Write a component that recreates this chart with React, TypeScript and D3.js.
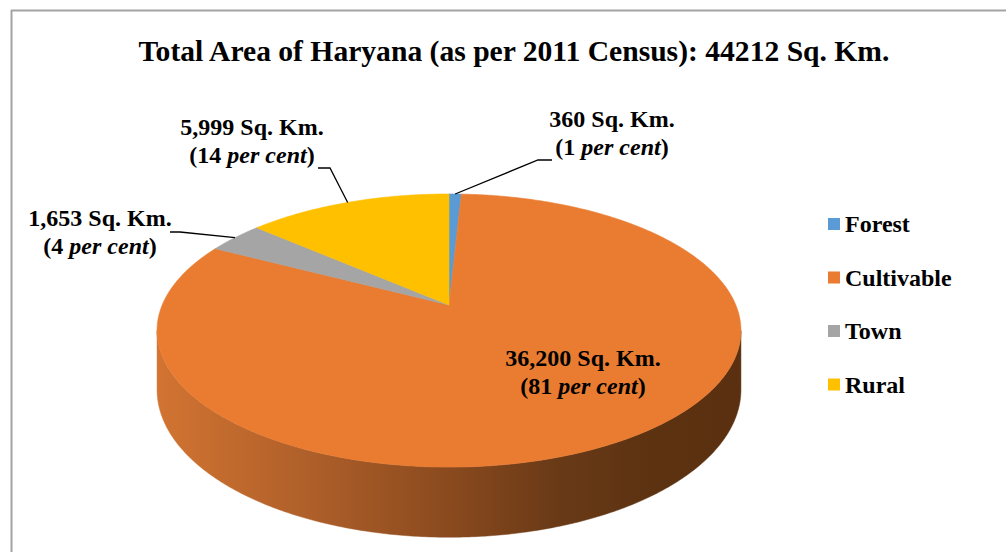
import React from "react";
import * as d3 from "d3";

const categories = ["Forest", "Cultivable", "Town", "Rural"];
const areas = [360, 36200, 1653, 5999];
const areaLabels = ["360", "36,200", "1,653", "5,999"];
const percents = ["1", "81", "4", "14"];
const colors = ["#5B9BD5", "#E97C30", "#A5A5A5", "#FFC000"];
const titleText = "Total Area of Haryana (as per 2011 Census): 44212 Sq. Km.";

const W = 1006;
const H = 552;
const CX = 449;
const CY = 305;
const RX = 286.8;
const RY = 131.8;
const P = 0.187;
const DEPTH = 57;

const FONT = "'Liberation Serif', 'Times New Roman', serif";

function proj(theta: number, depth = 0): [number, number] {
  const u = Math.sin(theta);
  const d = -Math.cos(theta);
  const w = 1 - P * d;
  return [CX + (RX * u) / w, CY + (RY * d) / w + (depth * DEPTH) / w];
}

function arcPoints(a0: number, a1: number, depth = 0): [number, number][] {
  const n = Math.max(2, Math.ceil(((a1 - a0) * 180) / Math.PI / 0.5));
  const pts: [number, number][] = [];
  for (let i = 0; i <= n; i++) pts.push(proj(a0 + ((a1 - a0) * i) / n, depth));
  return pts;
}

const labelPos: [number, number][] = [
  [612, 127],
  [583, 366],
  [100, 226],
  [252, 135],
];
const leaderEnds: ([number, number][] | null)[] = [
  [[552, 160], [538, 160]],
  null,
  [[170, 232], [180, 232]],
  [[318, 168], [330, 168]],
];

export default function App() {
  const pie = d3
    .pie<number>()
    .sort(null)
    .value((d) => d)
    .startAngle(0)
    .endAngle(2 * Math.PI);
  const arcs = pie(areas);

  const line = d3.line<[number, number]>();
  const frontA = Math.acos(-P);
  const frontB = 2 * Math.PI - frontA;

  const sides: React.ReactNode[] = [];
  arcs.forEach((a, i) => {
    const s = Math.max(a.startAngle, frontA);
    const e = Math.min(a.endAngle, frontB);
    if (e > s) {
      const top = arcPoints(s, e, 0);
      const bot = arcPoints(s, e, 1).reverse();
      sides.push(
        <path
          key={"side" + i}
          d={line([...top, ...bot]) + "Z"}
          fill={`url(#sideGrad${i})`}
          stroke={`url(#sideGrad${i})`}
          strokeWidth={0.5}
        />
      );
    }
  });

  const x0 = CX - RX * 1.02;
  const x1 = CX + RX * 1.02;

  const darker = (c: string, k: number) => d3.color(c)!.darker(k).formatHex();

  return (
    <svg
      width={W}
      height={H}
      style={{ position: "absolute", left: 0, top: 0, background: "#fff" }}
    >
      <defs>
        {colors.map((c, i) => (
          <linearGradient
            key={i}
            id={`sideGrad${i}`}
            gradientUnits="userSpaceOnUse"
            x1={x0}
            x2={x1}
            y1={0}
            y2={0}
          >
            {i === 1 ? (
              <>
                <stop offset="0" stopColor="#D27432" />
                <stop offset="0.25" stopColor="#B0602A" />
                <stop offset="0.5" stopColor="#8A4A1E" />
                <stop offset="0.68" stopColor="#6A3A17" />
                <stop offset="0.85" stopColor="#5C3211" />
                <stop offset="1" stopColor="#5A3010" />
              </>
            ) : (
              <>
                <stop offset="0" stopColor={darker(c, 0.3)} />
                <stop offset="1" stopColor={darker(c, 2)} />
              </>
            )}
          </linearGradient>
        ))}
      </defs>
      <rect x={0} y={0} width={W} height={H} fill="#fff" />
      <line x1={11} y1={10.5} x2={W} y2={10.5} stroke="#A3A3A3" strokeWidth={2} />
      <line x1={11.5} y1={10} x2={11.5} y2={H} stroke="#A3A3A3" strokeWidth={2} />

      <text
        x={514}
        y={61}
        textAnchor="middle"
        fontFamily={FONT}
        fontWeight="bold"
        fontSize={29.6}
        fill="#000"
      >
        {titleText}
      </text>

      {sides}

      {arcs.map((a, i) => {
        const pts: [number, number][] = [[CX, CY], ...arcPoints(a.startAngle, a.endAngle, 0)];
        return (
          <path
            key={"top" + i}
            d={line(pts) + "Z"}
            fill={colors[i]}
            stroke={colors[i]}
            strokeWidth={0.6}
            strokeLinejoin="round"
          />
        );
      })}

      {arcs.map((a, i) => {
        const ends = leaderEnds[i];
        if (!ends) return null;
        const mid = (a.startAngle + a.endAngle) / 2;
        const anchor = proj(mid, 0);
        return (
          <path
            key={"lead" + i}
            d={line([...ends, anchor]) || ""}
            fill="none"
            stroke="#000"
            strokeWidth={1.3}
          />
        );
      })}

      {categories.map((c, i) => {
        const [lx, ly] = labelPos[i];
        return (
          <text
            key={"lab" + i}
            textAnchor="middle"
            fontFamily={FONT}
            fontWeight="bold"
            fontSize={24}
            fill="#000"
          >
            <tspan x={lx} y={ly}>
              {areaLabels[i]} Sq. Km.
            </tspan>
            <tspan x={lx} y={ly + 28}>
              ({percents[i]} <tspan fontStyle="italic">per cent</tspan>)
            </tspan>
          </text>
        );
      })}

      {categories.map((c, i) => (
        <g key={"leg" + i} transform={`translate(828, ${218 + i * 53.5})`}>
          <rect x={0} y={0} width={12} height={12} fill={colors[i]} />
          <text
            x={17}
            y={14}
            fontFamily={FONT}
            fontWeight="bold"
            fontSize={24}
            fill="#000"
          >
            {c}
          </text>
        </g>
      ))}
    </svg>
  );
}
